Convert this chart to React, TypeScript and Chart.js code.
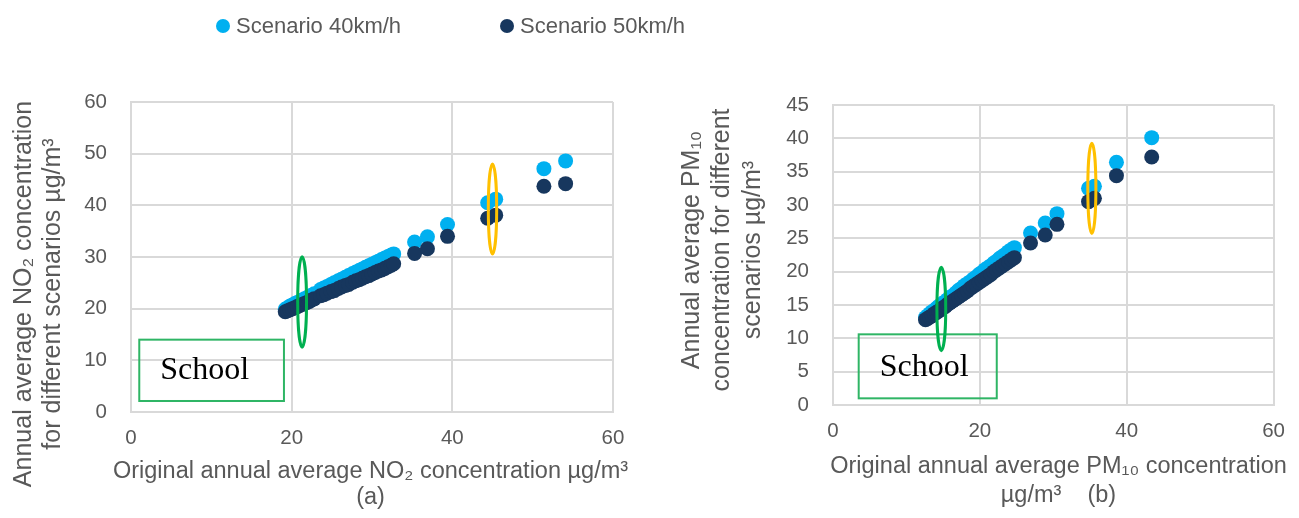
import React, { useEffect, useRef } from 'react';
import { Chart, registerables } from 'chart.js';

Chart.register(...registerables);

// ---------- data ----------
const seriesNames = ['Scenario 40km/h', 'Scenario 50km/h'];
const seriesColors = ['#00B0F0', '#17375E'];

// (a) NO2
const no2Original = [
  19.2, 19.5, 19.8, 20.1, 20.4, 20.7, 21.0, 21.3, 21.6, 21.9, 22.2, 22.5, 22.8,
  23.6, 24.0, 24.4, 24.9, 25.3, 25.8, 26.2, 26.7, 27.1, 27.6, 28.0, 28.4, 28.8,
  29.2, 29.6, 30.0, 30.4, 30.8, 31.2, 31.6, 32.0, 32.4, 32.7,
  35.3, 36.9, 39.4, 44.4, 45.4, 51.4, 54.1,
];
const no2Scenario40 = [
  19.9, 20.2, 20.5, 20.7, 21.0, 21.2, 21.4, 21.7, 21.9, 22.1, 22.4, 22.6, 22.9,
  23.7, 24.0, 24.3, 24.7, 25.0, 25.4, 25.7, 26.1, 26.4, 26.8, 27.1, 27.4, 27.7,
  28.0, 28.3, 28.6, 28.9, 29.2, 29.5, 29.8, 30.1, 30.4, 30.6,
  32.9, 33.9, 36.3, 40.5, 41.2, 47.1, 48.6,
];
const no2Scenario50 = [
  19.4, 19.6, 19.8, 20.0, 20.2, 20.4, 20.6, 20.8, 21.0, 21.2, 21.4, 21.7, 21.9,
  22.5, 22.7, 23.0, 23.3, 23.5, 23.9, 24.2, 24.5, 24.7, 25.1, 25.4, 25.6, 25.9,
  26.2, 26.4, 26.7, 27.0, 27.3, 27.5, 27.8, 28.1, 28.4, 28.7,
  30.7, 31.6, 34.0, 37.5, 38.1, 43.7, 44.2,
];

// (b) PM10
const pm10Original = [
  12.6, 12.9, 13.2, 13.5, 13.8, 14.1, 14.4, 14.7, 15.0, 15.3, 15.6, 15.9, 16.3,
  16.7, 17.1, 17.5, 17.9, 18.3, 18.7, 19.1, 19.5, 19.9, 20.3, 20.7, 21.1, 21.5,
  21.9, 22.3, 22.7, 23.1, 23.5, 23.9, 24.3, 24.7,
  26.9, 28.9, 30.5, 34.8, 35.6, 38.6, 43.4,
];
const pm10Scenario40 = [
  13.1, 13.4, 13.7, 14.0, 14.2, 14.5, 14.8, 15.0, 15.3, 15.5, 15.8, 16.1, 16.4,
  16.8, 17.2, 17.5, 17.9, 18.2, 18.5, 18.9, 19.2, 19.6, 19.9, 20.3, 20.6, 20.9,
  21.3, 21.6, 22.0, 22.3, 22.6, 23.0, 23.3, 23.6,
  25.8, 27.3, 28.7, 32.5, 32.8, 36.4, 40.1,
];
const pm10Scenario50 = [
  12.8, 13.0, 13.2, 13.4, 13.7, 13.9, 14.1, 14.4, 14.6, 14.8, 15.1, 15.3, 15.6,
  15.9, 16.2, 16.5, 16.8, 17.1, 17.5, 17.8, 18.1, 18.4, 18.7, 19.0, 19.3, 19.6,
  20.0, 20.3, 20.6, 20.9, 21.2, 21.5, 21.8, 22.1,
  24.3, 25.5, 27.1, 30.5, 31.0, 34.4, 37.2,
];

// tick labels
const xTicks = [0, 20, 40, 60];
const no2YTicks = [0, 10, 20, 30, 40, 50, 60];
const pm10YTicks = [0, 5, 10, 15, 20, 25, 30, 35, 40, 45];

// ---------- styling ----------
const FONT = "'Liberation Sans', Arial, sans-serif";
const TEXT = '#595959';
const GRID = '#d9d9d9';

type Ellipse = { x: number; y: number; rx: number; ry: number; color: string };
type Box = { x0: number; x1: number; y0: number; y1: number; label: string };
type Overlay = {
  ellipses: Ellipse[];
  box: Box;
  xTitle: { lines: string[]; cx: number; baselines: number[]; size: number };
  yTitle: { lines: string[]; xs: number[]; cy: number; size: number };
};

const overlayPlugin = {
  id: 'overlay',
  afterDraw(chart: any, _args: any, opts: Overlay) {
    const ctx: CanvasRenderingContext2D = chart.ctx;
    const xs = chart.scales.x;
    const ys = chart.scales.y;
    // school box
    const b = opts.box;
    const bx0 = xs.getPixelForValue(b.x0);
    const bx1 = xs.getPixelForValue(b.x1);
    const by0 = ys.getPixelForValue(b.y0);
    const by1 = ys.getPixelForValue(b.y1);
    ctx.save();
    ctx.strokeStyle = '#2fb565';
    ctx.lineWidth = 2;
    ctx.strokeRect(bx0, by1, bx1 - bx0, by0 - by1);
    ctx.fillStyle = '#000';
    ctx.font = "32px 'Liberation Serif', 'Times New Roman', serif";
    ctx.textAlign = 'left';
    ctx.textBaseline = 'alphabetic';
    ctx.fillText(b.label, bx0 + 21, by0 - 22);
    ctx.restore();
    // ellipses
    for (const e of opts.ellipses) {
      const cx = xs.getPixelForValue(e.x);
      const cy = ys.getPixelForValue(e.y);
      const rx = Math.abs(xs.getPixelForValue(e.x + e.rx) - cx);
      const ry = Math.abs(ys.getPixelForValue(e.y + e.ry) - cy);
      ctx.save();
      ctx.beginPath();
      ctx.ellipse(cx, cy, rx, ry, 0, 0, Math.PI * 2);
      ctx.strokeStyle = e.color;
      ctx.lineWidth = 3;
      ctx.stroke();
      ctx.restore();
    }
    // axis titles
    ctx.save();
    ctx.fillStyle = TEXT;
    ctx.font = `${opts.xTitle.size}px ${FONT}`;
    ctx.textAlign = 'center';
    ctx.textBaseline = 'alphabetic';
    opts.xTitle.lines.forEach((l, i) => ctx.fillText(l, opts.xTitle.cx, opts.xTitle.baselines[i]));
    ctx.font = `${opts.yTitle.size}px ${FONT}`;
    ctx.textBaseline = 'middle';
    opts.yTitle.lines.forEach((l, i) => {
      ctx.save();
      ctx.translate(opts.yTitle.xs[i], opts.yTitle.cy);
      ctx.rotate(-Math.PI / 2);
      ctx.fillText(l, 0, 0);
      ctx.restore();
    });
    ctx.restore();
  },
};

type Cfg = {
  x: number[];
  s40: number[];
  s50: number[];
  yTicks: number[];
  yMax: number;
  padding: { left: number; top: number; right: number; bottom: number };
  yWidth: number;
  xHeight: number;
  overlay: Overlay;
};

function makeChart(canvas: HTMLCanvasElement, cfg: Cfg) {
  const pts = (ys: number[]) => cfg.x.map((v, i) => ({ x: v, y: ys[i] }));
  return new Chart(canvas, {
    type: 'scatter',
    data: {
      datasets: [
        {
          label: seriesNames[0],
          data: pts(cfg.s40),
          backgroundColor: seriesColors[0],
          borderColor: seriesColors[0],
          borderWidth: 0,
          pointRadius: 7.5,
          pointHoverRadius: 7.5,
          order: 1,
        },
        {
          label: seriesNames[1],
          data: pts(cfg.s50),
          backgroundColor: seriesColors[1],
          borderColor: seriesColors[1],
          borderWidth: 0,
          pointRadius: 7.5,
          pointHoverRadius: 7.5,
          order: 0,
        },
      ],
    },
    options: {
      responsive: false,
      animation: false,
      events: [],
      layout: { padding: cfg.padding },
      plugins: {
        legend: { display: false },
        tooltip: { enabled: false },
        // @ts-ignore
        overlay: cfg.overlay,
      },
      scales: {
        x: {
          type: 'linear',
          min: 0,
          max: 60,
          afterBuildTicks: (s: any) => {
            s.ticks = xTicks.map((v) => ({ value: v }));
          },
          afterFit: (s: any) => {
            s.height = cfg.xHeight;
          },
          grid: { color: GRID, lineWidth: 2, drawTicks: false },
          border: { color: GRID, width: 2 },
          ticks: { color: TEXT, font: { family: FONT, size: 20.5 }, padding: 14 },
        },
        y: {
          type: 'linear',
          min: 0,
          max: cfg.yMax,
          afterBuildTicks: (s: any) => {
            s.ticks = cfg.yTicks.map((v) => ({ value: v }));
          },
          afterFit: (s: any) => {
            s.width = cfg.yWidth;
          },
          grid: { color: GRID, lineWidth: 2, drawTicks: false },
          border: { color: GRID, width: 2 },
          ticks: { color: TEXT, font: { family: FONT, size: 20.5 }, padding: 24 },
        },
      },
    },
    plugins: [overlayPlugin as any],
  });
}

export default function App() {
  const refA = useRef<HTMLCanvasElement>(null);
  const refB = useRef<HTMLCanvasElement>(null);

  useEffect(() => {
    document.body.style.margin = '0';
    const a = makeChart(refA.current!, {
      x: no2Original,
      s40: no2Scenario40,
      s50: no2Scenario50,
      yTicks: no2YTicks,
      yMax: 60,
      padding: { left: 0, top: 102, right: 37, bottom: 0 },
      yWidth: 131,
      xHeight: 106,
      overlay: {
        ellipses: [
          { x: 21.3, y: 21.3, rx: 0.55, ry: 8.75, color: '#00B050' },
          { x: 45.0, y: 39.3, rx: 0.52, ry: 8.7, color: '#FFC000' },
        ],
        box: { x0: 1.03, x1: 19.04, y0: 2.13, y1: 14.0, label: 'School' },
        xTitle: {
          lines: ['Original annual average NO₂ concentration µg/m³', '(a)'],
          cx: 370.5,
          baselines: [477.7, 503.5],
          size: 23.5,
        },
        yTitle: {
          lines: ['Annual average NO₂ concentration', 'for different scenarios µg/m³'],
          xs: [24, 53],
          cy: 294,
          size: 25,
        },
      },
    });
    const b = makeChart(refB.current!, {
      x: pm10Original,
      s40: pm10Scenario40,
      s50: pm10Scenario50,
      yTicks: pm10YTicks,
      yMax: 45,
      padding: { left: 0, top: 105, right: 18, bottom: 0 },
      yWidth: 183,
      xHeight: 113,
      overlay: {
        ellipses: [
          { x: 14.75, y: 14.4, rx: 0.6, ry: 6.25, color: '#00B050' },
          { x: 35.25, y: 32.5, rx: 0.55, ry: 6.78, color: '#FFC000' },
        ],
        box: { x0: 3.5, x1: 22.3, y0: 1.0, y1: 10.6, label: 'School' },
        xTitle: {
          lines: ['Original annual average PM₁₀ concentration', 'µg/m³    (b)'],
          cx: 408.5,
          baselines: [473, 501.5],
          size: 23.5,
        },
        yTitle: {
          lines: ['Annual average PM₁₀', 'concentration for different', 'scenarios µg/m³'],
          xs: [42, 72.5, 103],
          cy: 250,
          size: 25,
        },
      },
    });
    return () => {
      a.destroy();
      b.destroy();
    };
  }, []);

  const legendItem = (i: number, dotX: number) => (
    <div key={i}>
      <div
        style={{
          position: 'absolute',
          left: dotX - 7,
          top: 19,
          width: 14,
          height: 14,
          borderRadius: '50%',
          background: seriesColors[i],
        }}
      />
      <div
        style={{
          position: 'absolute',
          left: dotX + 13,
          top: 14,
          fontFamily: FONT,
          fontSize: 22,
          lineHeight: '24px',
          color: TEXT,
          whiteSpace: 'nowrap',
        }}
      >
        {seriesNames[i]}
      </div>
    </div>
  );

  return (
    <div style={{ position: 'relative', width: 1299, height: 518, background: '#fff', overflow: 'hidden' }}>
      <canvas
        ref={refA}
        width={650}
        height={518}
        style={{ position: 'absolute', left: 0, top: 0, width: 650, height: 518 }}
      />
      <canvas
        ref={refB}
        width={649}
        height={518}
        style={{ position: 'absolute', left: 650, top: 0, width: 649, height: 518 }}
      />
      {legendItem(0, 223)}
      {legendItem(1, 507)}
    </div>
  );
}
